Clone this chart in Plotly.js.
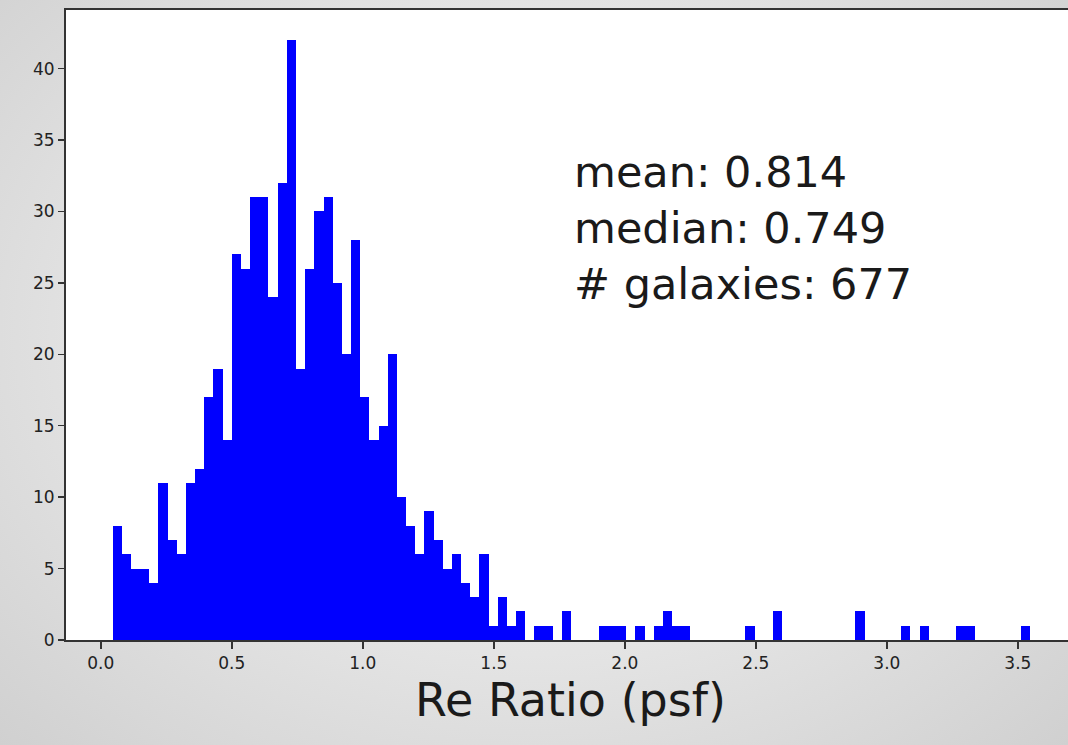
<!DOCTYPE html>
<html>
<head>
<meta charset="utf-8">
<script src="https://cdn.plot.ly/plotly-3.0.1.min.js"></script>
<style>
  html, body { margin: 0; padding: 0; width: 1068px; height: 745px; overflow: hidden; }
  body { background: radial-gradient(ellipse at 50% 45%, #f2f2f2 0%, #e4e4e4 55%, #d0d0d0 100%); }
  #chart { width: 1080px; height: 745px; }
</style>
</head>
<body>
<div id="chart"></div>
<script>
// Histogram of effective-radius ratios (psf), 100 equal-width bins
const binStart = 0.045;
const binWidth = 0.035;
const binCounts = [
  8, 6, 5, 5, 4, 11, 7, 6, 11, 12, 17, 19, 14,
  27, 26, 31, 31, 24, 32, 42, 19, 26, 30, 31, 25, 20, 28,
  17, 14, 15, 20, 10, 8, 6, 9, 7, 5, 6, 4, 3, 6, 1, 3, 1, 2,
  0, 1, 1, 0, 2, 0, 0, 0, 1, 1,
  1, 0, 1, 0, 1, 2, 1, 1, 0, 0,
  0, 0, 0, 0, 1, 0, 0, 2, 0, 0,
  0, 0, 0, 0, 0, 0, 2, 0, 0, 0,
  0, 1, 0, 1, 0, 0, 0, 1, 1, 0,
  0, 0, 0, 0, 1
];
const meanRatio = '0.814';
const medianRatio = '0.749';
const xTickVals = [0.0, 0.5, 1.0, 1.5, 2.0, 2.5, 3.0, 3.5];
const xTickText = ['0.0', '0.5', '1.0', '1.5', '2.0', '2.5', '3.0', '3.5'];
const yTickVals = [0, 5, 10, 15, 20, 25, 30, 35, 40];

const binCenters = binCounts.map((_, i) => binStart + binWidth * (i + 0.5));
const nGalaxies = binCounts.reduce((a, b) => a + b, 0);

const trace = {
  type: 'bar',
  x: binCenters,
  y: binCounts,
  width: binWidth,
  marker: { color: '#0000ff', line: { width: 0 } },
  hoverinfo: 'x+y'
};

const axisFont = { family: 'DejaVu Sans', size: 17, color: '#222222' };

const layout = {
  width: 1080,
  height: 745,
  margin: { l: 66, r: 5, t: 10, b: 105, pad: 0 },
  paper_bgcolor: 'rgba(0,0,0,0)',
  plot_bgcolor: '#ffffff',
  bargap: 0,
  showlegend: false,
  xaxis: {
    range: [-0.1328, 3.718],
    tickmode: 'array',
    tickvals: xTickVals,
    ticktext: xTickText,
    ticks: 'outside',
    ticklen: 7,
    tickwidth: 1.5,
    tickcolor: '#333333',
    showgrid: false,
    zeroline: false,
    showline: true,
    linecolor: '#333333',
    linewidth: 2,
    mirror: true,
    tickfont: axisFont,
    automargin: false,
    title: { text: 'Re Ratio (psf)', font: { family: 'DejaVu Sans', size: 46, color: '#1a1a1a' }, standoff: 8 }
  },
  yaxis: {
    range: [0, 44.1],
    tickmode: 'array',
    tickvals: yTickVals,
    ticks: 'outside',
    ticklen: 6,
    tickwidth: 1.5,
    tickcolor: '#333333',
    showgrid: false,
    zeroline: false,
    showline: true,
    linecolor: '#333333',
    linewidth: 2,
    mirror: true,
    tickfont: axisFont,
    automargin: false
  },
  annotations: [{
    xref: 'paper', yref: 'paper',
    x: 0.5015, y: 0.654,
    xanchor: 'left', yanchor: 'middle',
    align: 'left',
    showarrow: false,
    text: 'mean: ' + meanRatio + '<br>median: ' + medianRatio + '<br># galaxies: ' + nGalaxies,
    font: { family: 'DejaVu Sans', size: 43, color: '#1a1a1a' }
  }]
};

Plotly.newPlot('chart', [trace], layout, { displayModeBar: false, staticPlot: true });
</script>
</body>
</html>
